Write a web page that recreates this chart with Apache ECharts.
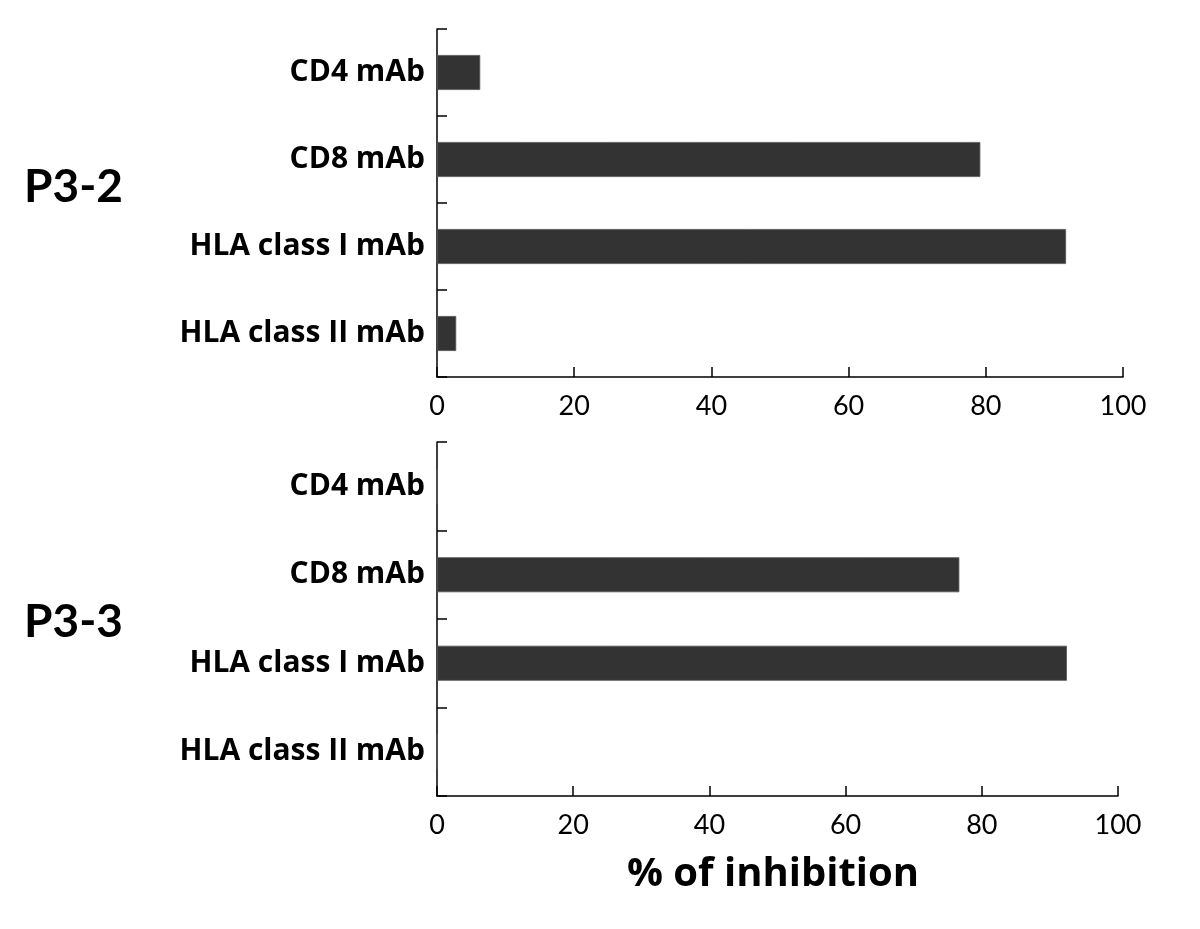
<!DOCTYPE html>
<html>
<head>
<meta charset="utf-8">
<script src="https://cdn.jsdelivr.net/npm/echarts@6/dist/echarts.min.js"></script>
<style>html,body{margin:0;padding:0;background:#fff;}#c{width:1200px;height:929px;}</style>
</head>
<body>
<div id="c"></div>
<script>
const categories = ['CD4 mAb', 'CD8 mAb', 'HLA class I mAb', 'HLA class II mAb'];
const panelNames = ['P3-2', 'P3-3'];
const valuesP32 = [6.3, 79.2, 91.7, 2.8];
const valuesP33 = [0, 76.7, 92.5, 0];
const xTicks = [0, 20, 40, 60, 80, 100];
const xAxisTitle = '% of inhibition';

const chart = echarts.init(document.getElementById('c'), null, {renderer: 'canvas'});

function xAxisCfg(gridIndex, withName) {
  const a = {
    type: 'value', gridIndex: gridIndex, min: xTicks[0], max: xTicks[xTicks.length - 1], interval: 20,
    axisLine: {show: true, lineStyle: {color: '#000', width: 1.5}},
    axisTick: {show: true, inside: true, length: 10, lineStyle: {color: '#000', width: 1.5}},
    splitLine: {show: false},
    axisLabel: {color: '#000', fontFamily: 'Lato', fontSize: 27, margin: 16}
  };
  if (withName) {
    a.name = xAxisTitle;
    a.nameLocation = 'middle';
    a.nameGap = 59;
    a.nameTextStyle = {color: '#000', fontFamily: 'Open Sans', fontWeight: 'bold', fontSize: 40, padding: [0, 9, 0, 0]};
  }
  return a;
}
function yAxisCfg(gridIndex) {
  return {
    type: 'category', gridIndex: gridIndex, data: categories, inverse: true,
    axisLine: {show: true, lineStyle: {color: '#000', width: 1.5}},
    axisTick: {show: true, inside: true, length: 10, alignWithLabel: false, lineStyle: {color: '#000', width: 1.5}},
    axisLabel: {color: '#000', fontFamily: 'Open Sans', fontWeight: 'bold', fontSize: 30, margin: 12}
  };
}
function barSeries(idx, data) {
  return {
    type: 'bar', xAxisIndex: idx, yAxisIndex: idx, data: data, barWidth: 35,
    itemStyle: {color: '#333333', borderColor: '#555', borderWidth: 0.8},
    silent: true
  };
}

chart.setOption({
  backgroundColor: '#fff',
  animation: false,
  grid: [
    {left: 437, right: 77, top: 29, height: 348, containLabel: false},
    {left: 437, right: 82, top: 442, height: 354, containLabel: false}
  ],
  xAxis: [xAxisCfg(0, false), xAxisCfg(1, true)],
  yAxis: [yAxisCfg(0), yAxisCfg(1)],
  series: [barSeries(0, valuesP32), barSeries(1, valuesP33)],
  graphic: [
    {type: 'text', left: 24, top: 164, style: {text: panelNames[0], fill: '#000', font: 'bold 46px Lato'}},
    {type: 'text', left: 24, top: 599, style: {text: panelNames[1], fill: '#000', font: 'bold 46px Lato'}}
  ]
});
</script>
</body>
</html>
